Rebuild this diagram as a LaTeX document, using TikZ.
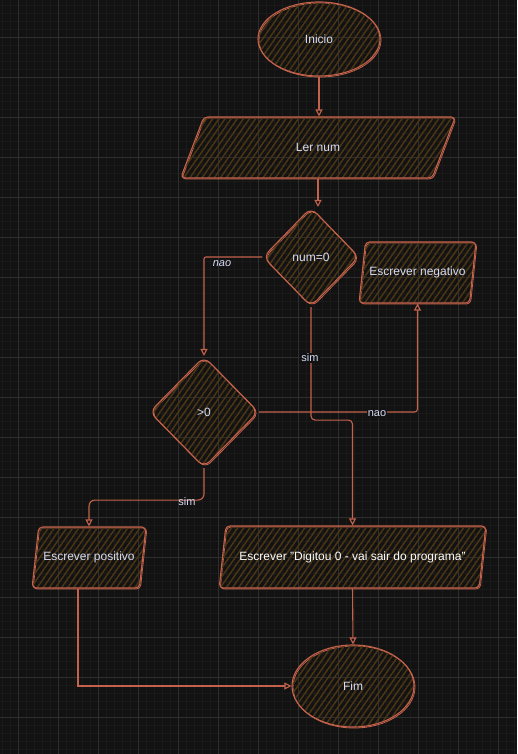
\documentclass[tikz,border=0pt]{standalone}
\usepackage{fontspec}
\setmainfont{Liberation Sans}
\usetikzlibrary{shapes.geometric,arrows.meta,patterns.meta}
\definecolor{bgc}{HTML}{121212}
\definecolor{minorc}{HTML}{1A1A1A}
\definecolor{majorc}{HTML}{2E2E2E}
\definecolor{edgec}{RGB}{196,98,76}
\definecolor{hatchc}{HTML}{4A3514}
\definecolor{txtc}{HTML}{D6DCF5}
\tikzset{
  sk/.style={draw=edgec, line width=1.1pt, text=txtc, inner sep=0pt,
    font=\fontsize{12}{14}\selectfont,
    pattern={Lines[angle=55,distance=5pt,line width=1.5pt]}, pattern color=hatchc,
    preaction={draw=edgec, line width=0.8pt, transform canvas={shift={(1pt,-1pt)}}}},
  para/.style={sk, trapezium, trapezium left angle=62, trapezium right angle=118,
    trapezium stretches=true, rounded corners=4pt},
  dia/.style={sk, diamond, rounded corners=8pt},
  oval/.style={sk, ellipse},
  conn/.style={draw=edgec, line width=1.1pt, -{Triangle[open,length=7pt,width=7pt]}},
  lbl/.style={text=txtc, font=\fontsize{11}{13}\selectfont, inner sep=1pt},
}
\begin{document}
\begin{tikzpicture}[x=1pt,y=-1pt]
\useasboundingbox (0,0) rectangle (517,754);
\fill[bgc] (0,0) rectangle (517,754);
\foreach \x in {2,10,...,514} \draw[minorc, line width=0.6pt] (\x,0) -- (\x,754);
\foreach \y in {5,13,...,753} \draw[minorc, line width=0.6pt] (0,\y) -- (517,\y);
\foreach \x in {18,58,...,498} \draw[majorc, line width=0.8pt] (\x,0) -- (\x,754);
\foreach \y in {37,77,...,717} \draw[majorc, line width=0.8pt] (0,\y) -- (517,\y);

\node[oval, minimum width=122pt, minimum height=74pt] (inicio) at (319,39) {Inicio};
\node[para, minimum width=276pt, minimum height=61pt] (ler) at (318,147.5) {Ler num};
\node[dia, minimum width=96pt, minimum height=99pt] (q1) at (311,257) {num=0};
\node[para, minimum width=117pt, minimum height=61pt] (neg) at (417.5,272.5) {Escrever negativo};
\node[dia, minimum width=109pt, minimum height=111pt] (q2) at (204,412) {>0};
\node[para, minimum width=114pt, minimum height=61pt] (pos) at (89,557.5) {Escrever positivo};
\node[para, minimum width=267pt, minimum height=62pt, text=white] (dig) at (352.5,557) {Escrever "Digitou 0 - vai sair do programa"};
\node[oval, minimum width=122pt, minimum height=82pt] (fim) at (353,686) {Fim};

\draw[conn] (inicio.south) -- (inicio.south |- ler.north);
\draw[conn] (ler.south) -- (ler.south |- q1.north);
\draw[conn, rounded corners=2pt] (q1.west) -| (q2.north);
\node[lbl, font=\fontsize{11}{13}\selectfont\itshape] (lnao1) at (222,264) {nao};
\draw[conn, rounded corners=4pt] (q1.south) -- ++(0,113) -| (dig.north);
\node[lbl, fill=bgc] (lsim1) at (310,358) {sim};
\draw[conn, rounded corners=3pt] (q2.east) -| (neg.south);
\node[lbl, fill=bgc] (lnao2) at (377,414) {nao};
\draw[conn, rounded corners=6pt] (q2.south) -- ++(0,32) -| (pos.north);
\node[lbl] (lsim2) at (187,502) {sim};
\draw[conn] (dig.south) -- (fim.north);
\draw[conn] ([xshift=-11pt]pos.south) |- (fim.west);
\end{tikzpicture}
\end{document}
